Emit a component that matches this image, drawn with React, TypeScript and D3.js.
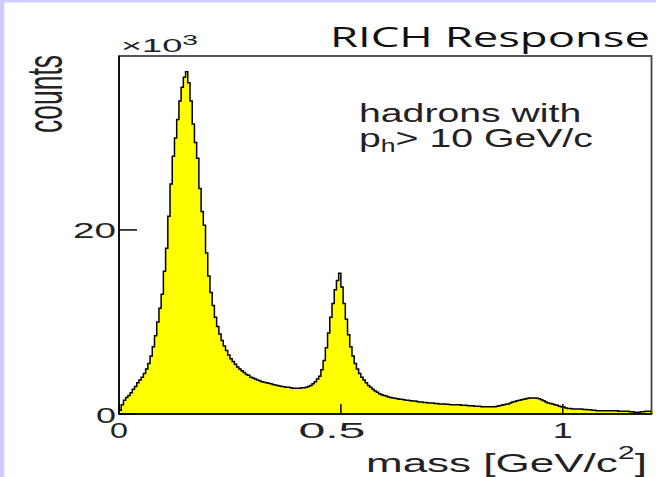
import React from "react";
import * as d3 from "d3";

// ---- data (counts in units of 10^3, bins of 0.005 GeV/c^2 from 0 to 1.2) ----
const MASS_MIN = 0;
const MASS_MAX = 1.2;
const BIN_WIDTH = 0.005;
const COUNTS_K = [
  // 0.00 - 0.10
  0.4, 1.0, 1.5, 1.8, 2.0, 2.3, 2.7, 3.0, 3.4, 3.7, 4.0, 4.4, 4.9, 5.5, 6.3, 7.3, 8.5, 10.0, 11.5, 13.0,
  // 0.10 - 0.20
  15.5, 18.0, 21.5, 25.0, 28.0, 30.0, 32.0, 34.0, 35.5, 36.6, 37.2, 36.0, 34.0, 31.5, 29.5, 27.8, 24.5, 22.0, 20.5, 17.5,
  // 0.20 - 0.30
  15.0, 13.2, 11.8, 10.5, 9.5, 8.7, 8.0, 7.4, 6.9, 6.4, 6.0, 5.7, 5.4, 5.1, 4.9, 4.7, 4.5, 4.3, 4.2, 4.0,
  // 0.30 - 0.40
  3.9, 3.8, 3.7, 3.6, 3.5, 3.45, 3.4, 3.35, 3.3, 3.2, 3.15, 3.1, 3.05, 3.0, 2.95, 2.9, 2.9, 2.85, 2.8, 2.8,
  // 0.40 - 0.50
  2.8, 2.8, 2.85, 2.85, 2.9, 3.0, 3.1, 3.3, 3.5, 3.8, 4.1, 4.8, 5.8, 7.2, 8.8, 10.5, 12.0, 13.5, 14.5, 15.3,
  // 0.50 - 0.60
  13.8, 12.0, 10.3, 8.6, 7.3, 6.3, 5.5, 4.9, 4.4, 4.0, 3.7, 3.4, 3.1, 2.9, 2.7, 2.5, 2.35, 2.2, 2.1, 2.0,
  // 0.60 - 0.70
  1.95, 1.85, 1.8, 1.75, 1.7, 1.65, 1.6, 1.6, 1.55, 1.5, 1.5, 1.45, 1.4, 1.4, 1.35, 1.3, 1.3, 1.25, 1.25, 1.2,
  // 0.70 - 0.80
  1.2, 1.2, 1.15, 1.15, 1.1, 1.1, 1.1, 1.05, 1.05, 1.0, 1.0, 1.0, 1.0, 1.0, 0.95, 0.95, 0.95, 0.9, 0.9, 0.9,
  // 0.80 - 0.90
  0.85, 0.85, 0.85, 0.8, 0.8, 0.8, 0.8, 0.8, 0.8, 0.8, 0.85, 0.9, 0.95, 1.0, 1.05, 1.1, 1.2, 1.3, 1.35, 1.45,
  // 0.90 - 1.00
  1.5, 1.55, 1.6, 1.65, 1.7, 1.75, 1.75, 1.75, 1.7, 1.65, 1.55, 1.45, 1.3, 1.2, 1.15, 1.1, 1.0, 0.95, 0.85, 0.8,
  // 1.00 - 1.10
  0.75, 0.65, 0.6, 0.6, 0.55, 0.55, 0.55, 0.55, 0.55, 0.5, 0.5, 0.45, 0.45, 0.4, 0.4, 0.35, 0.35, 0.35, 0.35, 0.35,
  // 1.10 - 1.20
  0.35, 0.35, 0.35, 0.35, 0.35, 0.3, 0.3, 0.3, 0.3, 0.3, 0.25, 0.25, 0.2, 0.2, 0.2, 0.25, 0.25, 0.3, 0.3, 0.3,
];
const Y_MAX_K = 38.9;
const X_TICKS = [0, 0.5, 1];
const X_TICK_LABELS = ["0", "0.5", "1"];
const Y_TICKS = [0, 20];
const Y_TICK_LABELS = ["0", "20"];
const TITLE = "RICH Response";
const NOTE_LINE1 = "hadrons with";
const X_TITLE = "mass [GeV/c";
const Y_TITLE = "counts";

const W = 656;
const H = 477;
const FRAME = { left: 119, right: 651.5, top: 56, bottom: 414 };
const FONT = "'Liberation Sans', Arial, Helvetica, sans-serif";

export default function App() {
  const x = d3.scaleLinear().domain([MASS_MIN, MASS_MAX]).range([FRAME.left, FRAME.right]);
  const y = d3.scaleLinear().domain([0, Y_MAX_K]).range([FRAME.bottom, FRAME.top]);

  type P = { m: number; v: number };
  const pts: P[] = COUNTS_K.map((v, i) => ({ m: MASS_MIN + i * BIN_WIDTH, v }));
  pts.push({ m: MASS_MAX, v: COUNTS_K[COUNTS_K.length - 1] });

  const area = d3
    .area<P>()
    .x((d) => x(d.m))
    .y0(y(0))
    .y1((d) => y(d.v))
    .curve(d3.curveStepAfter);
  const outlinePts: P[] = [{ m: MASS_MIN, v: 0 }, ...pts, { m: MASS_MAX, v: 0 }];
  const line = d3
    .line<P>()
    .x((d) => x(d.m))
    .y((d) => y(d.v))
    .curve(d3.curveStepAfter);

  // label layout (pixel placement of tick labels)
  const xLabelLen = [18, 67, 20];
  const xLabelShift = [0, -9, 0];
  const yLabelLen = [20, 43];

  return (
    <svg
      width={W}
      height={H}
      style={{ position: "fixed", left: 0, top: 0, background: "#fff" }}
    >
      <rect x={0} y={0} width={W} height={H} fill="#fff" />
      <rect x={0} y={0} width={W} height={2.5} fill="#ccccff" />
      <rect x={0} y={0} width={4.3} height={H} fill="#ccccff" />

      {/* histogram */}
      <path d={area(pts) || ""} fill="#ffff00" stroke="none" />
      <path d={line(outlinePts) || ""} fill="none" stroke="#000" strokeWidth={1.5} />

      {/* frame */}
      <rect
        x={FRAME.left}
        y={FRAME.top}
        width={FRAME.right - FRAME.left}
        height={FRAME.bottom - FRAME.top}
        fill="none"
        stroke="#444"
        strokeWidth={1.8}
      />
      <line x1={FRAME.left} x2={FRAME.left} y1={FRAME.top} y2={FRAME.bottom} stroke="#000" strokeWidth={1.6} />
      <line x1={FRAME.left} x2={FRAME.right} y1={FRAME.bottom} y2={FRAME.bottom} stroke="#000" strokeWidth={1.6} />

      {/* x ticks */}
      {X_TICKS.map((t) => (
        <line key={"xt" + t} x1={x(t)} x2={x(t)} y1={FRAME.bottom} y2={FRAME.bottom - 10} stroke="#000" strokeWidth={1.5} />
      ))}
      {X_TICKS.map((t, i) => (
        <text
          key={"xl" + t}
          x={x(t) + xLabelShift[i]}
          y={438}
          textAnchor="middle"
          fontFamily={FONT}
          fontSize={21.5}
          fill="#222"
          textLength={xLabelLen[i]}
          lengthAdjust="spacingAndGlyphs"
        >
          {X_TICK_LABELS[i]}
        </text>
      ))}

      {/* y ticks */}
      {Y_TICKS.map((t) => (
        <line key={"yt" + t} x1={FRAME.left} x2={FRAME.left + 18} y1={y(t)} y2={y(t)} stroke="#000" strokeWidth={1.5} />
      ))}
      {Y_TICKS.map((t, i) => (
        <text
          key={"yl" + t}
          x={116}
          y={y(t) + (i === 0 ? 9 : 8)}
          textAnchor="end"
          fontFamily={FONT}
          fontSize={22}
          fill="#222"
          textLength={yLabelLen[i]}
          lengthAdjust="spacingAndGlyphs"
        >
          {Y_TICK_LABELS[i]}
        </text>
      ))}

      {/* x10^3 */}
      <text x={121} y={52} fontFamily={FONT} fontSize={18} fill="#222" textLength={77} lengthAdjust="spacingAndGlyphs">
        ×10
        <tspan fontSize={14} dy={-7}>3</tspan>
      </text>

      {/* y title */}
      <text
        transform="translate(62,55) scale(1.5,1) rotate(-90)"
        x={0}
        y={0}
        textAnchor="end"
        fontFamily={FONT}
        fontSize={33}
        fill="#222"
        textLength={78}
        lengthAdjust="spacingAndGlyphs"
      >
        {Y_TITLE}
      </text>

      {/* title */}
      <text
        x={330}
        y={47}
        fontFamily="'Open Sans', 'Noto Sans', sans-serif"
        fontSize={27}
        fill="#111"
        textLength={320}
        lengthAdjust="spacingAndGlyphs"
      >
        {TITLE}
      </text>

      {/* note (two lines, horizontally stretched like the reference) */}
      <g transform="translate(359,0) scale(1.48,1)">
        <text fontFamily={FONT} fontSize={26.5} fill="#222">
          <tspan x={0} y={122}>{NOTE_LINE1}</tspan>
          <tspan x={0} y={147}>p</tspan>
          <tspan fontSize={18} dy={5}>h</tspan>
          <tspan dy={-5}>{"> 10 GeV/c"}</tspan>
        </text>
      </g>

      {/* x title */}
      <text x={366} y={472} fontFamily={FONT} fontSize={26} fill="#222" textLength={281} lengthAdjust="spacingAndGlyphs">
        {X_TITLE}
        <tspan fontSize={18} dy={-13}>2</tspan>
        <tspan dy={13}>]</tspan>
      </text>
    </svg>
  );
}
